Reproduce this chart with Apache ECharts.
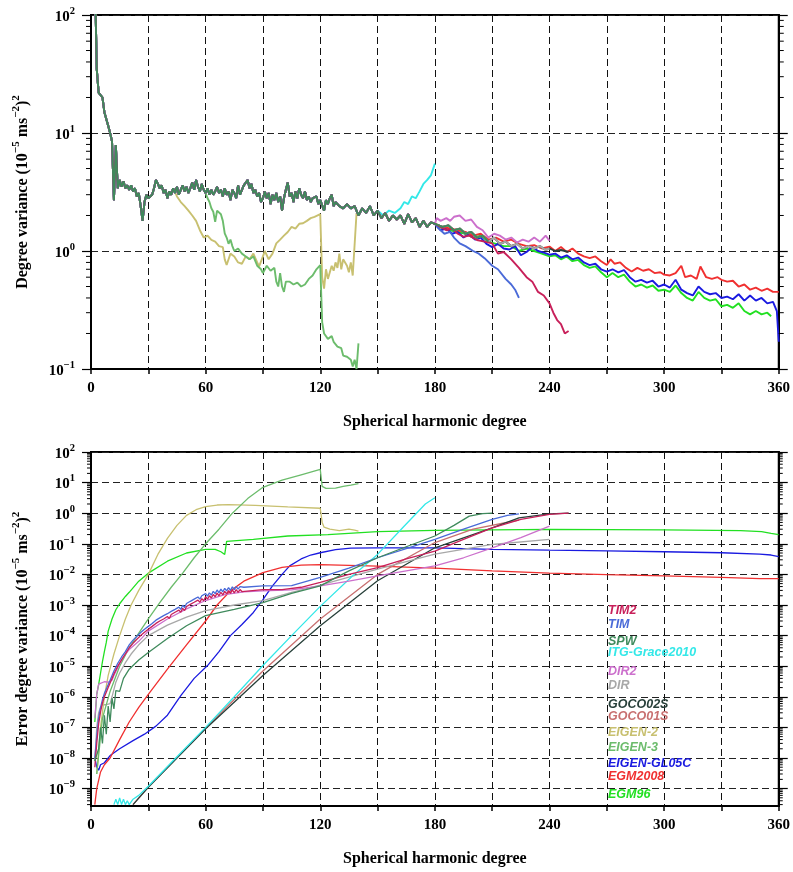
<!DOCTYPE html>
<html>
<head>
<meta charset="utf-8">
<script src="https://cdn.jsdelivr.net/npm/echarts@6/dist/echarts.min.js"></script>
<style>
  html, body { margin: 0; padding: 0; background: #fff; }
  #chart { width: 793px; height: 872px; }
</style>
</head>
<body>
<div id="chart"></div>
<script>
// ---- model names / colours (legend order) ----
const modelNames = ["TIM2", "TIM", "SPW", "ITG-Grace2010", "DIR2", "DIR", "GOCO02S", "GOCO01S",
  "EIGEN-2", "EIGEN-3", "EIGEN-GL05C", "EGM2008", "EGM96"];
const modelColors = ["#c8205a", "#4a6ad8", "#3f8a5c", "#33e8e8", "#cc70cc", "#a8a8a8", "#28403a", "#c87070",
  "#c8c070", "#6cbc6c", "#1a1ae0", "#f03030", "#22e022"];

// ---- tick values ----
const xTicks = [0, 60, 120, 180, 240, 300, 360];
const topTicks = [0.1, 1, 10, 100];
const errTicks = [1e-9, 1e-8, 1e-7, 1e-6, 1e-5, 1e-4, 1e-3, 1e-2, 1e-1, 1, 10, 100];

// ---- top panel: degree variance ----
// part shared by all models up to degree 180
const topTrunk = [[2, 250], [3, 35], [4, 22], [6, 20], [7, 15], [9, 11.5], [10, 10], [11, 8.5], [12, 2.7], [13, 7.9],
  [14, 3.4], [15, 4.0], [16, 3.5], [17, 3.9], [18, 3.4], [19, 3.6], [20, 3.3], [21, 3.6], [22, 3.2], [23, 3.4],
  [24, 2.9], [25, 3.1], [26, 2.4], [27, 1.8], [28, 2.6], [29, 3.0], [30, 2.8], [31, 2.9], [32, 3.0], [33, 3.4],
  [34, 4.0], [35, 3.7], [36, 3.4], [37, 3.6], [38, 3.1], [39, 3.3], [40, 2.8], [41, 3.2], [42, 3.0], [43, 3.4],
  [44, 3.1], [45, 3.5], [46, 3.0], [47, 3.3], [48, 3.6], [49, 3.2], [50, 3.5], [51, 3.1], [52, 3.4], [53, 3.8],
  [54, 3.3], [55, 4.0], [56, 3.5], [57, 3.2], [58, 3.7], [59, 3.3], [60, 3.1], [61, 3.4], [62, 3.0], [63, 3.3],
  [64, 3.0], [65, 3.2], [66, 3.5], [67, 3.1], [68, 3.3], [69, 2.9], [70, 3.4], [71, 3.0], [72, 3.2], [73, 2.7],
  [74, 3.3], [75, 3.1], [76, 2.8], [77, 3.6], [78, 3.0], [79, 3.3], [80, 3.6], [81, 3.5], [82, 4.0], [83, 3.4],
  [84, 3.7], [85, 3.1], [86, 3.3], [87, 2.9], [88, 3.1], [89, 2.6], [90, 2.8], [91, 3.2], [92, 2.8], [93, 3.1],
  [94, 2.5], [95, 3.0], [96, 2.7], [97, 3.1], [98, 2.6], [99, 2.9], [100, 2.2], [101, 2.8], [102, 3.3], [103, 3.8],
  [104, 2.9], [105, 3.1], [106, 2.6], [107, 3.2], [108, 2.8], [109, 3.4], [110, 3.0], [111, 2.8], [112, 3.2],
  [113, 2.7], [114, 2.9], [115, 2.6], [116, 2.8], [117, 2.7], [118, 2.9], [119, 2.5], [120, 2.7], [121, 2.6],
  [122, 2.2], [123, 2.7], [124, 2.5], [125, 2.8], [126, 3.0], [127, 2.4], [128, 2.6], [130, 2.4], [132, 2.3],
  [134, 2.5], [136, 2.3], [138, 2.4], [140, 2.0], [142, 2.3], [144, 2.1], [146, 2.4], [148, 2.0], [150, 2.2],
  [152, 1.9], [154, 2.1], [156, 1.8], [158, 2.0], [160, 1.85], [162, 2.0], [164, 1.7], [166, 2.05], [168, 1.75],
  [170, 1.9], [172, 1.6], [174, 1.8], [176, 1.6], [178, 1.75], [180, 1.7]];
const topBundle = [[181, 1.75], [184, 1.6], [187, 1.65], [190, 1.5], [193, 1.55], [196, 1.4], [199, 1.45], [202, 1.3],
  [205, 1.35], [208, 1.2], [211, 1.3], [214, 1.15], [217, 1.2], [220, 1.1], [223, 1.15], [226, 1.05], [229, 1.1],
  [232, 1.05], [235, 1.1], [238, 1.02], [240, 1.05], [243, 1.0], [246, 1.02], [250, 0.98]];
const topEGM96 = [[184, 1.55], [188, 1.5], [192, 1.45], [196, 1.4], [200, 1.3], [204, 1.35], [208, 1.2], [212, 1.15],
  [216, 1.1], [220, 1.1], [224, 1.0], [228, 1.05], [232, 1.0], [236, 0.95], [240, 0.9], [243, 0.92], [246, 0.85],
  [249, 0.9], [252, 0.82], [255, 0.84], [258, 0.76], [261, 0.72], [264, 0.74], [267, 0.66], [270, 0.6], [273, 0.65],
  [276, 0.6], [279, 0.63], [282, 0.55], [285, 0.5], [288, 0.52], [291, 0.49], [294, 0.51], [297, 0.46], [300, 0.47],
  [303, 0.45], [306, 0.51], [309, 0.44], [312, 0.4], [315, 0.38], [318, 0.45], [321, 0.4], [324, 0.38], [327, 0.39],
  [330, 0.34], [333, 0.35], [336, 0.33], [339, 0.36], [342, 0.31], [345, 0.29], [348, 0.31], [351, 0.29],
  [354, 0.3], [356, 0.28]];
const topEGM2008 = [[184, 1.6], [188, 1.55], [192, 1.5], [196, 1.45], [200, 1.35], [204, 1.4], [208, 1.25], [212, 1.3],
  [216, 1.2], [220, 1.25], [224, 1.15], [228, 1.1], [232, 1.12], [236, 1.05], [240, 1.09], [243, 1.0], [246, 1.08],
  [249, 0.98], [252, 1.05], [255, 0.95], [258, 0.9], [261, 0.87], [264, 0.9], [267, 0.82], [270, 0.76], [272, 0.85],
  [274, 0.78], [277, 0.8], [280, 0.72], [283, 0.67], [286, 0.72], [289, 0.68], [292, 0.7], [295, 0.65], [298, 0.66],
  [300, 0.63], [303, 0.62], [306, 0.65], [309, 0.75], [311, 0.6], [314, 0.62], [317, 0.58], [319, 0.74], [322, 0.6],
  [325, 0.58], [328, 0.6], [330, 0.57], [333, 0.55], [336, 0.56], [339, 0.5], [342, 0.52], [345, 0.47], [348, 0.49],
  [351, 0.46], [354, 0.48], [357, 0.45], [360, 0.45]];
const topGL05C = [[183, 1.5], [186, 1.55], [189, 1.4], [192, 1.45], [195, 1.3], [198, 1.4], [201, 1.25], [204, 1.3],
  [207, 1.15], [210, 1.08], [213, 1.15], [216, 1.05], [219, 1.03], [222, 1.1], [225, 0.92], [228, 0.98], [231, 1.08],
  [234, 1.0], [237, 0.97], [240, 0.93], [243, 0.95], [246, 0.88], [249, 0.92], [252, 0.85], [255, 0.88], [258, 0.8],
  [261, 0.76], [264, 0.78], [267, 0.7], [270, 0.67], [273, 0.7], [276, 0.66], [279, 0.69], [282, 0.6], [285, 0.55],
  [288, 0.57], [291, 0.54], [294, 0.56], [297, 0.5], [300, 0.52], [303, 0.49], [306, 0.57], [309, 0.47], [312, 0.44],
  [315, 0.42], [318, 0.5], [321, 0.45], [324, 0.43], [327, 0.44], [330, 0.4], [333, 0.41], [336, 0.39], [339, 0.43],
  [342, 0.38], [345, 0.42], [348, 0.38], [351, 0.4], [354, 0.36], [357, 0.37], [359, 0.31], [360, 0.17]];
const topTIM = [[182, 1.55], [185, 1.4], [188, 1.45], [190, 1.3], [193, 1.16], [196, 1.1], [200, 1.0], [203, 0.95],
  [206, 0.87], [210, 0.75], [213, 0.7], [217, 0.58], [220, 0.52], [222, 0.47], [224, 0.4]];
const topTIM2 = [[183, 1.6], [186, 1.5], [189, 1.55], [192, 1.4], [195, 1.32], [198, 1.35], [202, 1.24], [206, 1.2],
  [210, 1.16], [213, 0.95], [216, 0.98], [220, 0.85], [224, 0.72], [228, 0.6], [231, 0.55], [234, 0.45], [237, 0.42],
  [240, 0.36], [242, 0.3], [244, 0.26], [246, 0.24], [248, 0.2], [250, 0.21]];
const topDIR2 = [[181, 1.9], [183, 1.8], [186, 1.9], [188, 1.8], [190, 1.95], [193, 2.0], [196, 1.8], [199, 1.85],
  [202, 1.6], [205, 1.5], [208, 1.3], [211, 1.4], [214, 1.35], [217, 1.25], [220, 1.3], [223, 1.18], [226, 1.25],
  [229, 1.2], [232, 1.3], [235, 1.2], [238, 1.35], [240, 1.22]];
const topITG = [[150, 2.2], [153, 2.0], [156, 2.2], [159, 2.1], [162, 2.3], [164, 2.6], [166, 2.5], [168, 2.9],
  [170, 2.8], [172, 3.2], [174, 3.7], [176, 4.0], [178, 4.4], [179, 4.5], [180, 5.5]];
const topEIGEN2 = [[45, 2.9], [47, 2.6], [49, 2.4], [51, 2.2], [53, 2.0], [55, 1.8], [57, 1.5], [59, 1.3], [61, 1.35],
  [63, 1.24], [65, 1.2], [67, 1.1], [69, 1.08], [70, 0.85], [71, 0.76], [73, 0.95], [75, 0.9], [77, 0.8], [79, 0.78],
  [81, 0.9], [83, 0.85], [85, 0.95], [87, 0.8], [88, 0.74], [90, 0.9], [91, 1.0], [93, 0.85], [95, 0.95], [97, 1.16],
  [99, 1.25], [101, 1.35], [103, 1.45], [105, 1.6], [107, 1.55], [109, 1.7], [111, 1.72], [113, 1.8], [115, 1.9],
  [117, 1.95], [120, 2.05], [121, 0.6], [122, 0.48], [123, 0.7], [124, 0.58], [126, 0.75], [127, 0.68], [128, 0.8],
  [129, 0.72], [130, 0.95], [131, 0.7], [132, 0.85], [134, 0.75], [135, 0.66], [136, 0.8], [137, 0.62], [139, 2.1]];
const topEIGEN3 = [[61, 2.8], [62, 2.6], [63, 2.3], [64, 2.15], [65, 1.77], [66, 2.2], [68, 2.05], [69, 1.8], [70, 1.41],
  [71, 1.3], [72, 1.15], [73, 1.25], [74, 1.1], [75, 1.0], [77, 1.05], [79, 0.95], [81, 0.9], [83, 0.85], [85, 0.9],
  [87, 0.75], [89, 0.7], [90, 0.65], [92, 0.75], [94, 0.68], [96, 0.72], [97, 0.55], [98, 0.5], [99, 0.65],
  [100, 0.5], [101, 0.45], [102, 0.55], [104, 0.55], [106, 0.52], [108, 0.54], [110, 0.5], [112, 0.52], [114, 0.58],
  [116, 0.62], [118, 0.7], [120, 0.76], [121, 0.25], [122, 0.2], [124, 0.18], [126, 0.19], [127, 0.17], [129, 0.155],
  [131, 0.15], [132, 0.13], [134, 0.127], [136, 0.12], [137, 0.105], [138, 0.12], [139, 0.1], [140, 0.165]];

// ---- bottom panel: error degree variance ----
const errTIM2 = [[2, 5e-9], [3, 3e-8], [4, 1.3e-7], [5, 3.2e-7], [6, 6.3e-7], [7, 1e-6], [8, 1.4e-6], [9, 2e-6],
  [10, 2.8e-6], [12, 5.6e-6], [14, 1e-5], [16, 1.6e-5], [18, 2.5e-5], [20, 4.0e-5], [21, 3.8e-5], [22, 5.6e-5],
  [23, 5.2e-5], [24, 7.6e-5], [25, 7.1e-5], [26, 1.0e-4], [27, 8.9e-5], [28, 1.29e-4], [29, 1.15e-4], [30, 1.62e-4],
  [31, 1.45e-4], [32, 2.0e-4], [33, 1.78e-4], [34, 2.5e-4], [35, 2.2e-4], [36, 3.0e-4], [37, 2.6e-4], [38, 3.5e-4],
  [39, 3.1e-4], [40, 4.2e-4], [41, 3.6e-4], [42, 4.9e-4], [43, 4.3e-4], [44, 5.8e-4], [45, 5.0e-4], [46, 6.8e-4],
  [47, 5.8e-4], [48, 7.8e-4], [49, 6.6e-4], [50, 8.9e-4], [51, 7.8e-4], [52, 1.05e-3], [53, 9.1e-4], [54, 1.23e-3],
  [55, 1.07e-3], [56, 1.45e-3], [57, 1.23e-3], [58, 1.62e-3], [59, 1.38e-3], [60, 1.86e-3], [61, 1.55e-3],
  [62, 2.0e-3], [63, 1.7e-3], [64, 2.2e-3], [65, 1.86e-3], [66, 2.45e-3], [67, 2.0e-3], [68, 2.6e-3], [69, 2.15e-3],
  [70, 2.8e-3], [71, 2.3e-3], [72, 2.95e-3], [73, 2.4e-3], [74, 3.1e-3], [75, 2.5e-3], [76, 3.2e-3], [77, 2.6e-3],
  [78, 3.2e-3], [79, 2.75e-3], [80, 3.0e-3], [90, 3.16e-3], [100, 3.2e-3], [110, 3.8e-3], [120, 5.5e-3],
  [135, 1.0e-2], [150, 1.66e-2], [165, 3.2e-2], [180, 5.8e-2], [195, 1.4e-1], [210, 3.3e-1], [225, 6.3e-1],
  [240, 9.1e-1], [250, 1.0]];
const errTIM = [[2, 1e-8], [3, 5e-8], [4, 2e-7], [5, 4.5e-7], [6, 8e-7], [7, 1.3e-6], [8, 1.8e-6], [9, 2.5e-6],
  [10, 3.5e-6], [12, 7e-6], [14, 1.25e-5], [16, 2e-5], [18, 3e-5], [20, 5.0e-5], [21, 4.8e-5], [22, 7.1e-5],
  [23, 6.6e-5], [24, 9.5e-5], [25, 8.9e-5], [26, 1.26e-4], [27, 1.12e-4], [28, 1.62e-4], [29, 1.45e-4], [30, 2.0e-4],
  [31, 1.82e-4], [32, 2.5e-4], [33, 2.2e-4], [34, 3.2e-4], [35, 2.8e-4], [36, 3.8e-4], [37, 3.3e-4], [38, 4.5e-4],
  [39, 3.9e-4], [40, 5.2e-4], [41, 4.5e-4], [42, 6.2e-4], [43, 5.4e-4], [44, 7.2e-4], [45, 6.3e-4], [46, 8.5e-4],
  [47, 7.2e-4], [48, 9.8e-4], [49, 8.3e-4], [50, 1.12e-3], [51, 9.8e-4], [52, 1.32e-3], [53, 1.15e-3], [54, 1.55e-3],
  [55, 1.35e-3], [56, 1.82e-3], [57, 1.55e-3], [58, 2.0e-3], [59, 1.74e-3], [60, 2.35e-3], [61, 1.95e-3],
  [62, 2.5e-3], [63, 2.1e-3], [64, 2.8e-3], [65, 2.35e-3], [66, 3.1e-3], [67, 2.5e-3], [68, 3.3e-3], [69, 2.7e-3],
  [70, 3.5e-3], [71, 2.9e-3], [72, 3.7e-3], [73, 3.0e-3], [74, 3.9e-3], [75, 3.2e-3], [76, 4.0e-3], [77, 3.3e-3],
  [78, 4.0e-3], [79, 3.5e-3], [80, 3.8e-3], [90, 4.2e-3], [105, 4.3e-3], [120, 8e-3], [135, 1.6e-2],
  [150, 3.5e-2], [165, 7e-2], [180, 1.4e-1], [195, 3e-1], [210, 6.3e-1], [218, 8.5e-1], [224, 9.5e-1]];
const errSPW = [[2, 8e-9], [4, 2e-8], [5, 1e-7], [6, 3e-8], [7, 2.5e-7], [8, 6e-8], [9, 5e-7], [10, 1.5e-7],
  [11, 9e-7], [12, 4e-7], [13, 1.6e-6], [15, 1.5e-6], [17, 4e-6], [20, 8e-6], [25, 1.6e-5], [30, 2.8e-5],
  [40, 8e-5], [50, 2.1e-4], [60, 4.5e-4], [75, 7.2e-4], [90, 1.2e-3], [105, 2.4e-3], [120, 4.2e-3], [135, 1.3e-2],
  [150, 3.5e-2], [165, 8e-2], [180, 1.8e-1], [190, 4e-1], [198, 8e-1], [205, 9.7e-1], [210, 1.0]];
const errITG = [[12, 3e-10], [13, 4.5e-10], [14, 3e-10], [15, 5e-10], [16, 3e-10], [17, 4.5e-10], [18, 3e-10],
  [19, 4e-10], [20, 3e-10], [22, 4.5e-10], [25, 6e-10], [30, 1.2e-9], [45, 1.1e-8], [60, 1.0e-7], [75, 1.0e-6],
  [90, 1.05e-5], [105, 1e-4], [120, 9e-4], [137, 9e-3], [150, 4.5e-2], [164, 3.8e-1], [175, 2], [180, 3.2]];
const errDIR2 = [[2, 2e-7], [3, 1.2e-6], [4, 2.6e-6], [5, 3e-6], [7, 3.1e-6], [9, 3e-6], [10, 2.6e-6], [11, 3.5e-6],
  [12, 5e-6], [14, 9e-6], [16, 1.6e-5], [18, 2.5e-5], [20, 3.5e-5], [25, 6.5e-5], [30, 1.4e-4], [40, 3.5e-4],
  [50, 7.5e-4], [60, 1.4e-3], [70, 2.2e-3], [80, 2.7e-3], [90, 2.9e-3], [105, 3.1e-3], [120, 4.2e-3], [135, 6e-3],
  [150, 8.9e-3], [165, 1.3e-2], [180, 1.9e-2], [195, 3.5e-2], [210, 7.4e-2], [225, 1.6e-1], [240, 3.8e-1]];
const errDIR = [[2, 8e-9], [3, 1e-7], [4, 3e-7], [5, 4.5e-7], [6, 5.5e-7], [8, 5.5e-7], [9, 5e-7], [10, 6e-7],
  [11, 1e-6], [13, 3e-6], [15, 6e-6], [18, 1.3e-5], [21, 2.5e-5], [25, 5e-5], [30, 1e-4], [40, 2.2e-4], [50, 4e-4],
  [60, 6.5e-4], [75, 1e-3], [90, 1.4e-3], [105, 2.6e-3], [120, 4.5e-3], [150, 1.5e-2], [180, 4.6e-2], [210, 9.5e-2],
  [240, 1.4e-1]];
const errGOCO02S = [[22, 3e-10], [30, 1.1e-9], [60, 9e-8], [90, 5e-6], [120, 2.1e-4], [150, 6.2e-3], [180, 7.4e-2],
  [210, 3.3e-1], [224, 7e-1], [240, 9.5e-1], [250, 1.0]];
const errGOCO01S = [[22, 3e-10], [30, 1.15e-9], [60, 9.5e-8], [90, 7e-6], [120, 3.5e-4], [150, 1e-2], [180, 1.1e-1],
  [200, 3e-1], [224, 6e-1]];
const errEIGEN2 = [[3, 3e-9], [5, 1e-7], [7, 1e-6], [9, 5e-6], [12, 2.5e-5], [15, 1e-4], [18, 3.5e-4], [21, 1e-3],
  [25, 3e-3], [30, 1e-2], [35, 4.5e-2], [40, 1.5e-1], [45, 4e-1], [50, 8.5e-1], [55, 1.3], [60, 1.65], [66, 1.85],
  [72, 1.9], [86, 1.8], [103, 1.6], [120, 1.45], [121, 0.5], [122, 0.35], [125, 0.3], [130, 0.27], [135, 0.3],
  [138, 0.28], [140, 0.26]];
const errEIGEN3 = [[3, 3e-9], [6, 2e-7], [10, 1.5e-6], [15, 1e-5], [20, 4e-5], [25, 1.2e-4], [30, 3.5e-4], [36, 1.2e-3],
  [42, 3.8e-3], [48, 1.1e-2], [54, 3.5e-2], [60, 1e-1], [67, 3e-1], [74, 1], [82, 3], [90, 7], [100, 12], [110, 18],
  [120, 27], [121, 7.5], [123, 6.5], [128, 6.6], [132, 7.5], [136, 8.3], [140, 9.2]];
const errGL05C = [[2, 1e-8], [3, 5e-9], [4, 4e-9], [5, 6e-9], [7, 7e-9], [10, 1.2e-8], [15, 2e-8], [22, 3.7e-8],
  [28, 6e-8], [34, 1.1e-7], [40, 2.5e-7], [47, 1.1e-6], [54, 4e-6], [61, 1.05e-5], [67, 3e-5], [73, 1e-4],
  [79, 2.3e-4], [85, 5.7e-4], [90, 1.5e-3], [95, 4.2e-3], [100, 1e-2], [104, 1.9e-2], [110, 3.2e-2], [115, 4.3e-2],
  [120, 5.1e-2], [128, 6.5e-2], [136, 7.2e-2], [150, 7.4e-2], [180, 7.4e-2], [210, 6.6e-2], [240, 6.2e-2],
  [270, 5.9e-2], [300, 5.5e-2], [330, 5.1e-2], [350, 4.6e-2], [356, 4.3e-2], [360, 3.8e-2]];
const errEGM2008 = [[2, 3e-10], [3, 1e-9], [5, 3.5e-9], [7, 6e-9], [10, 1e-8], [15, 4e-8], [20, 1.5e-7], [25, 4.5e-7],
  [30, 1.2e-6], [40, 8e-6], [50, 5e-5], [60, 3e-4], [66, 1e-3], [73, 2.9e-3], [80, 6e-3], [90, 1.15e-2],
  [100, 1.7e-2], [110, 2e-2], [120, 2.1e-2], [150, 1.85e-2], [180, 1.6e-2], [210, 1.3e-2], [240, 1.1e-2],
  [270, 9.8e-3], [300, 9e-3], [330, 8e-3], [350, 7.3e-3], [360, 7.3e-3]];
const errEGM96 = [[2, 1.5e-7], [3, 1.2e-6], [4, 2.5e-6], [5, 6e-6], [6, 1.4e-5], [7, 3e-5], [8, 6e-5], [9, 1.4e-4],
  [11, 3.5e-4], [13, 7e-4], [15, 1.1e-3], [18, 1.9e-3], [20, 2.6e-3], [25, 6e-3], [30, 1.1e-2], [40, 2.7e-2],
  [50, 5e-2], [60, 6.6e-2], [65, 6.6e-2], [68, 5.5e-2], [70, 4.5e-2], [71, 1.2e-1], [85, 1.4e-1], [103, 1.8e-1],
  [124, 2.0e-1], [150, 2.5e-1], [180, 2.75e-1], [240, 2.95e-1], [300, 2.85e-1], [340, 2.7e-1], [351, 2.5e-1],
  [356, 2.2e-1], [360, 2.0e-1]];

function upTo(arr, d) { return arr.filter(p => p[0] <= d); }

const topData = {
  "TIM2": topTrunk.concat(topTIM2),
  "TIM": topTrunk.concat(topTIM),
  "SPW": topTrunk.concat(upTo(topBundle, 210)),
  "ITG-Grace2010": upTo(topTrunk, 148).concat(topITG),
  "DIR2": topTrunk.concat(topDIR2),
  "DIR": topTrunk.concat(upTo(topBundle, 240)),
  "GOCO02S": topTrunk.concat(topBundle),
  "GOCO01S": topTrunk.concat(upTo(topBundle, 224)),
  "EIGEN-2": upTo(topTrunk, 43).concat(topEIGEN2),
  "EIGEN-3": upTo(topTrunk, 60).concat(topEIGEN3),
  "EIGEN-GL05C": topTrunk.concat(topGL05C),
  "EGM2008": topTrunk.concat(topEGM2008),
  "EGM96": topTrunk.concat(topEGM96)
};
const errData = {
  "TIM2": errTIM2, "TIM": errTIM, "SPW": errSPW, "ITG-Grace2010": errITG, "DIR2": errDIR2, "DIR": errDIR,
  "GOCO02S": errGOCO02S, "GOCO01S": errGOCO01S, "EIGEN-2": errEIGEN2, "EIGEN-3": errEIGEN3,
  "EIGEN-GL05C": errGL05C, "EGM2008": errEGM2008, "EGM96": errEGM96
};

// drawing order, last one on top
const drawOrder = ["EGM96", "EIGEN-GL05C", "EGM2008", "GOCO01S", "GOCO02S", "DIR", "EIGEN-2", "EIGEN-3",
  "ITG-Grace2010", "DIR2", "TIM", "TIM2", "SPW"];

const serif = "'Liberation Serif', 'DejaVu Serif', serif";
// rich styles for 10^n labels: base digits + raised exponent
const powRich = {
  b: { fontFamily: serif, fontWeight: "bold", fontSize: 15, lineHeight: 19, verticalAlign: "bottom", color: "#000" },
  s: { fontFamily: serif, fontWeight: "bold", fontSize: 10.5, lineHeight: 11, verticalAlign: "top", color: "#000" }
};
function powLabel(v) {
  const e = Math.log10(v);
  const r = Math.round(e);
  if (Math.abs(e - r) > 1e-6) return "";
  return "{b|10}{s|" + String(r).replace("-", "\u2212") + "}";
}
const nameRich = {
  b: { fontFamily: serif, fontWeight: "bold", fontSize: 16, lineHeight: 20, verticalAlign: "bottom", color: "#000" },
  s: { fontFamily: serif, fontWeight: "bold", fontSize: 11, lineHeight: 12, verticalAlign: "top", color: "#000" }
};
function unitName(prefix) {
  return "{b|" + prefix + " (10}{s|\u22125}{b| ms}{s|\u22122}{b|)}{s|2}";
}

const labelFont = { fontFamily: serif, fontWeight: "bold", fontSize: 15, color: "#000" };
const nameFont = { fontFamily: serif, fontWeight: "bold", fontSize: 16, color: "#000" };

function xAxisFor(grid) {
  return {
    type: "value", gridIndex: grid, min: 0, max: 360, interval: 30,
    name: "Spherical harmonic degree", nameLocation: "middle", nameGap: 45, nameTextStyle: nameFont,
    axisLine: { lineStyle: { color: "#000", width: 2 } },
    axisTick: { length: 5, lineStyle: { color: "#000", width: 1.5 } },
    axisLabel: Object.assign({ margin: 12, formatter: v => (xTicks.indexOf(v) >= 0 ? String(v) : "") }, labelFont),
    splitLine: { show: true, lineStyle: { color: "#111", type: [7, 4], width: 1 } }
  };
}
function yAxisFor(grid, min, max, ticks, name, right) {
  return {
    type: "log", gridIndex: grid, min: min, max: max, logBase: 10,
    position: right ? "right" : "left",
    name: right ? "" : name, nameLocation: "middle", nameGap: 60,
    nameTextStyle: Object.assign({ rich: nameRich }, nameFont),
    axisLine: { show: true, onZero: false, lineStyle: { color: "#000", width: 2 } },
    axisTick: { show: true, length: 9, customValues: ticks, lineStyle: { color: "#000", width: 1.2 } },
    axisLabel: { show: !right, margin: 16, customValues: ticks, formatter: powLabel, rich: powRich },
    splitLine: { show: !right, lineStyle: { color: "#222", type: [7, 4], width: 1 } }
  };
}

function minorTicks(lo, hi, emin, emax) {
  const out = [];
  for (let e = emin; e <= emax; e++) {
    for (let m = 2; m <= 9; m++) {
      const v = m * Math.pow(10, e);
      if (v > lo && v < hi) out.push([0, v]);
    }
  }
  return out;
}
function minorTickSeries(grid, yIdx, data, len) {
  return {
    type: "custom", xAxisIndex: grid, yAxisIndex: yIdx, silent: true, clip: false, z: 5,
    data: data,
    renderItem: function (params, api) {
      const p = api.coord([0, api.value(1)]);
      const q = api.coord([360, api.value(1)]);
      const st = { stroke: "#000", lineWidth: 1 };
      return {
        type: "group", children: [
          { type: "line", shape: { x1: p[0] - len, y1: p[1], x2: p[0], y2: p[1] }, style: st },
          { type: "line", shape: { x1: q[0], y1: q[1], x2: q[0] + len, y2: q[1] }, style: st }
        ]
      };
    }
  };
}

const series = [];
drawOrder.forEach(name => {
  const color = modelColors[modelNames.indexOf(name)];
  series.push({
    name: name, type: "line", xAxisIndex: 0, yAxisIndex: 0, data: topData[name], showSymbol: false,
    lineStyle: { color: color, width: 1.9 }, itemStyle: { color: color }, z: 3
  });
  series.push({
    name: name, type: "line", xAxisIndex: 1, yAxisIndex: 2, data: errData[name], showSymbol: false,
    lineStyle: { color: color, width: 1.3 }, itemStyle: { color: color }, z: 3
  });
});
series.push(minorTickSeries(0, 0, minorTicks(0.1, 100, -1, 1), 5));
series.push(minorTickSeries(1, 2, minorTicks(2.7e-10, 100, -10, 1), 4));

// legend text inside the lower panel
const legendTop = [612, 626, 643, 654, 673, 687, 706, 718, 734, 749, 765, 778, 796];
const graphics = modelNames.map((n, i) => ({
  type: "text", left: 608, top: legendTop[i] - 8, silent: true, z: 10,
  style: { text: n, fill: modelColors[i], fontFamily: "'Liberation Sans', Arial, sans-serif",
    fontStyle: "italic", fontWeight: "bold", fontSize: 12.5 }
}));

const chart = echarts.init(document.getElementById("chart"), null, { renderer: "canvas" });
chart.setOption({
  backgroundColor: "#fff",
  animation: false,
  grid: [
    { left: 91, top: 15, width: 689, height: 354, show: true, borderColor: "#000", borderWidth: 2 },
    { left: 91, top: 452, width: 689, height: 354, show: true, borderColor: "#000", borderWidth: 2 }
  ],
  xAxis: [xAxisFor(0), xAxisFor(1)],
  yAxis: [
    yAxisFor(0, 0.1, 100, topTicks, unitName("Degree variance"), false),
    yAxisFor(0, 0.1, 100, topTicks, "", true),
    yAxisFor(1, 2.7e-10, 100, errTicks, unitName("Error degree variance"), false),
    yAxisFor(1, 2.7e-10, 100, errTicks, "", true)
  ],
  series: series,
  graphic: graphics
});
</script>
</body>
</html>
